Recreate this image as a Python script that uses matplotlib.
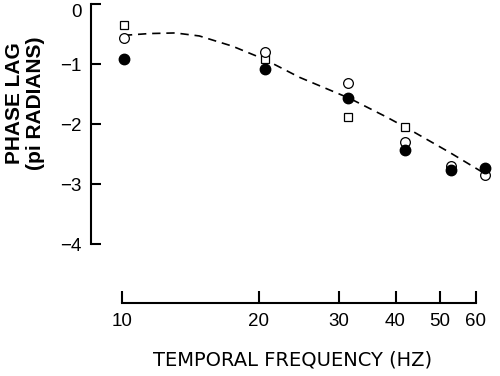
import matplotlib.pyplot as plt
import numpy as np

plt.rcParams['font.family'] = ['Liberation Sans', 'DejaVu Sans']

# values (phase lag in pi radians)
freq = [10.1, 20.6, 31.5, 42.0, 53.0, 63.0]
lag_filled = [-0.92, -1.08, -1.57, -2.43, -2.77, -2.73]
lag_open = [-0.56, -0.80, -1.32, -2.30, -2.70, -2.85]
sq_freq = [10.1, 20.6, 31.5, 42.0]
lag_square = [-0.35, -0.92, -1.88, -2.05]

# dashed fit curve, read point by point
fit_freq = [10.1, 11.5, 13.1, 14.8, 17.5, 20.6, 24.6, 31.7, 38.2, 42.5, 52.6, 63.4]
fit_lag = [-0.52, -0.49, -0.48, -0.53, -0.70, -0.92, -1.22, -1.57, -1.88, -2.07, -2.47, -2.84]

xticks = [10, 20, 30, 40, 50, 60]
yticks = [0, -1, -2, -3, -4]

fig = plt.figure(figsize=(5, 3.76), dpi=100)
ax = fig.add_axes([0.182, 0.194, 0.808, 0.795])

ax.plot(fit_freq, fit_lag, color='black', lw=1.2, linestyle=(0, (5, 3.5)), zorder=1)
ax.plot(sq_freq, lag_square, 's', ms=6, mfc='white', mec='black', mew=0.9, zorder=2)
ax.plot(freq, lag_open, 'o', ms=7, mfc='white', mec='black', mew=0.9, zorder=3)
ax.plot(freq, lag_filled, 'o', ms=7.5, color='black', zorder=4)

ax.set_xscale('log')
ax.set_xlim(8.55, 66.2)
ax.set_ylim(-4.98, 0)

for s in ['top', 'right']:
    ax.spines[s].set_visible(False)
ax.spines['left'].set_bounds(-4, 0)
ax.spines['bottom'].set_bounds(10, 60)
for s in ['left', 'bottom']:
    ax.spines[s].set_linewidth(1.5)

ax.set_xticks(xticks)
ax.set_xticklabels([str(t) for t in xticks])
ax.xaxis.set_minor_locator(plt.NullLocator())
ax.set_yticks(yticks)
ax.set_yticklabels(['0'] + ['\u2212%d' % -t for t in yticks[1:]])

ax.tick_params(axis='both', direction='in', width=1.5, labelsize=13.5, pad=7)
ax.tick_params(axis='x', length=9)
ax.tick_params(axis='y', length=7)
# the top label sits just under its tick in the original
ax.get_yticklabels()[0].set_va('top')

ax.set_xlabel('TEMPORAL FREQUENCY (HZ)', fontsize=14, family='DejaVu Sans', labelpad=15)
fig.text(0.05, 0.726, 'PHASE LAG\n(pi RADIANS)', rotation=90, ha='center', va='center',
         fontsize=15, fontweight='bold', linespacing=1.1)

fig.savefig('out.png', dpi=100)
